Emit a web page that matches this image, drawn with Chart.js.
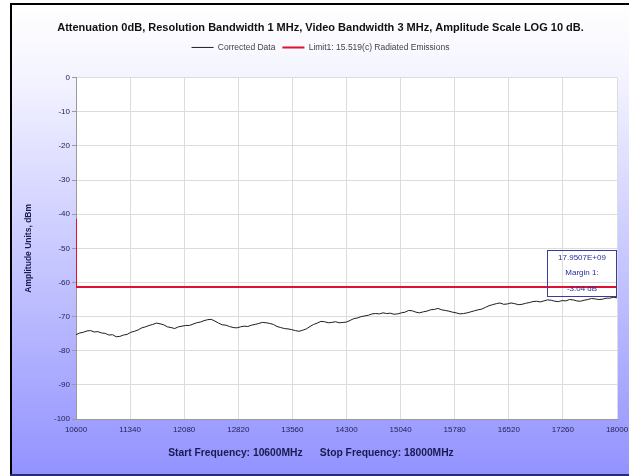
<!DOCTYPE html>
<html>
<head>
<meta charset="utf-8">
<script src="https://cdn.jsdelivr.net/npm/chart.js@4"></script>
<style>
  html, body { margin: 0; padding: 0; background: #fff; }
  #wrap { width: 629px; height: 476px; position: relative; }
</style>
</head>
<body>
<div id="wrap"><canvas id="chart" width="629" height="476"></canvas></div>
<script>
// frequency (MHz) of each trace sample
const freqs = [
  10600, 10650, 10700, 10750, 10800, 10850, 10900, 10950, 11000, 11050,
  11100, 11150, 11200, 11250, 11300, 11350, 11400, 11450, 11500, 11550,
  11600, 11650, 11700, 11750, 11800, 11850, 11900, 11950, 12000, 12050,
  12100, 12150, 12200, 12250, 12300, 12350, 12400, 12450, 12500, 12550,
  12600, 12650, 12700, 12750, 12800, 12850, 12900, 12950, 13000, 13050,
  13100, 13150, 13200, 13250, 13300, 13350, 13400, 13450, 13500, 13550,
  13600, 13650, 13700, 13750, 13800, 13850, 13900, 13950, 14000, 14050,
  14100, 14150, 14200, 14250, 14300, 14350, 14400, 14450, 14500, 14550,
  14600, 14650, 14700, 14750, 14800, 14850, 14900, 14950, 15000, 15050,
  15100, 15150, 15200, 15250, 15300, 15350, 15400, 15450, 15500, 15550,
  15600, 15650, 15700, 15750, 15800, 15850, 15900, 15950, 16000, 16050,
  16100, 16150, 16200, 16250, 16300, 16350, 16400, 16450, 16500, 16550,
  16600, 16650, 16700, 16750, 16800, 16850, 16900, 16950, 17000, 17050,
  17100, 17150, 17200, 17250, 17300, 17350, 17400, 17450, 17500, 17550,
  17600, 17650, 17700, 17750, 17800, 17850, 17900, 17950, 18000
];
// corrected data, dBm
const corrected = [
  -75.3, -74.8, -74.6, -74.2, -74.1, -74.5, -74.4, -74.8, -74.9, -75.4,
  -75.3, -75.9, -75.8, -75.4, -75.2, -74.6, -74.3, -73.9, -73.3, -73.0,
  -72.6, -72.3, -71.9, -72.1, -72.4, -73.0, -73.2, -73.5, -73.0, -72.8,
  -72.6, -72.6, -72.2, -71.8, -71.6, -71.2, -70.9, -70.8, -71.3, -71.9,
  -72.4, -72.5, -72.9, -73.2, -73.3, -73.0, -72.8, -72.9, -72.5, -72.3,
  -72.0, -71.7, -71.8, -72.0, -72.3, -72.9, -73.2, -73.5, -73.6, -73.8,
  -74.1, -74.3, -74.0, -73.6, -72.9, -72.3, -71.9, -71.4, -71.5, -71.8,
  -71.7, -71.5, -71.8, -71.7, -71.6, -71.1, -70.6, -70.4, -70.0, -69.8,
  -69.6, -69.2, -69.1, -69.2, -68.9, -69.1, -69.0, -69.3, -69.2, -68.9,
  -68.7, -68.2, -68.3, -68.7, -68.9, -68.6, -68.4, -68.0, -67.9, -67.6,
  -68.0, -68.2, -68.4, -68.7, -68.9, -69.2, -69.1, -68.9, -68.6, -68.3,
  -68.0, -67.8, -67.3, -66.8, -66.5, -66.2, -66.0, -66.4, -66.3, -66.0,
  -66.2, -66.5, -66.4, -66.1, -65.9, -65.6, -65.5, -65.7, -65.4, -65.1,
  -65.2, -65.5, -65.6, -65.3, -65.4, -65.0, -65.1, -65.4, -65.5, -65.2,
  -65.0, -64.7, -64.8, -65.0, -64.9, -64.6, -64.6, -64.34, -64.5
];
// limit line 15.519(c)
const limitFreqs = [10600, 10600, 18000];
const limitVals = [-41.3, -61.3, -61.3];

const xTicks = [10600, 11340, 12080, 12820, 13560, 14300, 15040, 15780, 16520, 17260, 18000];
const yTicks = [0, -10, -20, -30, -40, -50, -60, -70, -80, -90, -100];

const marker = { freq: "17.9507E+09", label: "Margin 1:", margin: "-3.04 dB" };
const xTitle = "Start Frequency: 10600MHz      Stop Frequency: 18000MHz";

const FONT = "'Liberation Sans', Arial, sans-serif";

// gradient background + frame like the original window
const backdrop = {
  id: "backdrop",
  beforeDraw(chart) {
    const ctx = chart.ctx;
    const w = chart.width, h = chart.height;
    ctx.save();
    ctx.fillStyle = "#fff";
    ctx.fillRect(0, 0, w, h);
    const g = ctx.createLinearGradient(0, 5, 0, h);
    g.addColorStop(0, "#ffffff");
    g.addColorStop(0.15, "#f4f4ff");
    g.addColorStop(1, "#9292ff");
    ctx.fillStyle = g;
    ctx.fillRect(12, 5, w - 12, h - 5);
    ctx.fillStyle = "#000";
    ctx.fillRect(10, 3, w - 10, 2);
    ctx.fillRect(10, 3, 2, h - 3);
    ctx.fillStyle = "#2a2a70";
    ctx.fillRect(10, h - 2, w - 10, 2);
    const a = chart.chartArea;
    ctx.fillStyle = "#fff";
    ctx.fillRect(a.left, a.top, a.right - a.left, a.bottom - a.top);
    ctx.restore();
  },
  afterDraw(chart) {
    // bottom caption, sits a bit left of the plot centre as in the original
    const ctx = chart.ctx;
    ctx.save();
    ctx.fillStyle = "#1a1a50";
    ctx.font = "bold 10.3px " + FONT;
    ctx.textAlign = "center";
    ctx.textBaseline = "middle";
    ctx.fillText(xTitle, 311, 453);
    ctx.restore();
  }
};

// push the plot down below the legend
const legendGap = {
  id: "legendGap",
  beforeInit(chart) {
    const fit = chart.legend.fit;
    chart.legend.fit = function () {
      fit.bind(chart.legend)();
      this.height += 16;
    };
  }
};

// margin marker box at the right of the plot
const markerBox = {
  id: "markerBox",
  afterDatasetsDraw(chart) {
    const ctx = chart.ctx;
    const a = chart.chartArea;
    const ys = chart.scales.y;
    const top = Math.round(ys.getPixelForValue(-50.6));
    const bottom = Math.round(ys.getPixelForValue(-64.0));
    const right = a.right;
    const left = right - 70;
    ctx.save();
    ctx.strokeStyle = "#3a3aa0";
    ctx.lineWidth = 1;
    ctx.strokeRect(left + 0.5, top + 0.5, right - left - 1, bottom - top);
    ctx.fillStyle = "#2b2b99";
    ctx.font = "8px " + FONT;
    ctx.textAlign = "center";
    ctx.textBaseline = "middle";
    const cx = (left + right) / 2;
    const step = (bottom - top) / 3;
    ctx.fillText(marker.freq, cx, top + step * 0.5);
    ctx.fillText(marker.label, cx, top + step * 1.5);
    ctx.fillText(marker.margin, cx, top + step * 2.5);
    ctx.restore();
  }
};

const ctx = document.getElementById("chart").getContext("2d");
new Chart(ctx, {
  type: "line",
  data: {
    datasets: [
      {
        label: "Corrected Data",
        data: freqs.map((f, i) => ({ x: f, y: corrected[i] })),
        borderColor: "#1e1e1e",
        backgroundColor: "#1e1e1e",
        borderWidth: 1,
        pointRadius: 0,
        pointStyle: "line",
        tension: 0
      },
      {
        label: "Limit1: 15.519(c) Radiated Emissions",
        data: limitFreqs.map((f, i) => ({ x: f, y: limitVals[i] })),
        borderColor: "#e0102e",
        backgroundColor: "#e0102e",
        borderWidth: 2,
        pointRadius: 0,
        pointStyle: "line",
        tension: 0
      }
    ]
  },
  options: {
    responsive: false,
    animation: false,
    layout: { padding: { left: 24, right: 12, top: 0, bottom: 17 } },
    plugins: {
      title: {
        display: true,
        text: "Attenuation 0dB, Resolution Bandwidth 1 MHz, Video Bandwidth 3 MHz, Amplitude Scale LOG 10 dB.",
        color: "#111",
        font: { family: FONT, size: 11, weight: "bold" },
        padding: { top: 21, bottom: 2 }
      },
      legend: {
        display: true,
        labels: {
          color: "#444",
          font: { family: FONT, size: 8.5 },
          usePointStyle: true,
          pointStyleWidth: 22,
          boxHeight: 8,
          padding: 7
        }
      },
      tooltip: { enabled: false }
    },
    scales: {
      x: {
        type: "linear",
        min: 10600,
        max: 18000,
        afterBuildTicks: (s) => { s.ticks = xTicks.map(v => ({ value: v })); },
        ticks: {
          color: "#22225a",
          font: { family: FONT, size: 8 },
          maxRotation: 0,
          padding: 6,
          callback: (v) => String(v)
        },
        grid: { color: "#dcdcdc", drawTicks: false },
        border: { color: "#9a9a9a" },
        afterFit: (s) => { s.height = 40; s.paddingLeft = 0; s.paddingRight = 0; }
      },
      y: {
        type: "linear",
        min: -100,
        max: 0,
        afterBuildTicks: (s) => { s.ticks = yTicks.map(v => ({ value: v })); },
        ticks: {
          color: "#22225a",
          font: { family: FONT, size: 8 },
          padding: 2
        },
        grid: { color: "#dcdcdc", tickLength: 4, tickColor: "#9a9a9a" },
        border: { color: "#9a9a9a" },
        title: {
          display: true,
          text: "Amplitude Units, dBm",
          color: "#1a1a50",
          font: { family: FONT, size: 8.5, weight: "bold" },
          padding: { top: 0, bottom: 8 }
        },
        afterFit: (s) => { s.width = 52; }
      }
    }
  },
  plugins: [backdrop, legendGap, markerBox]
});
</script>
</body>
</html>
